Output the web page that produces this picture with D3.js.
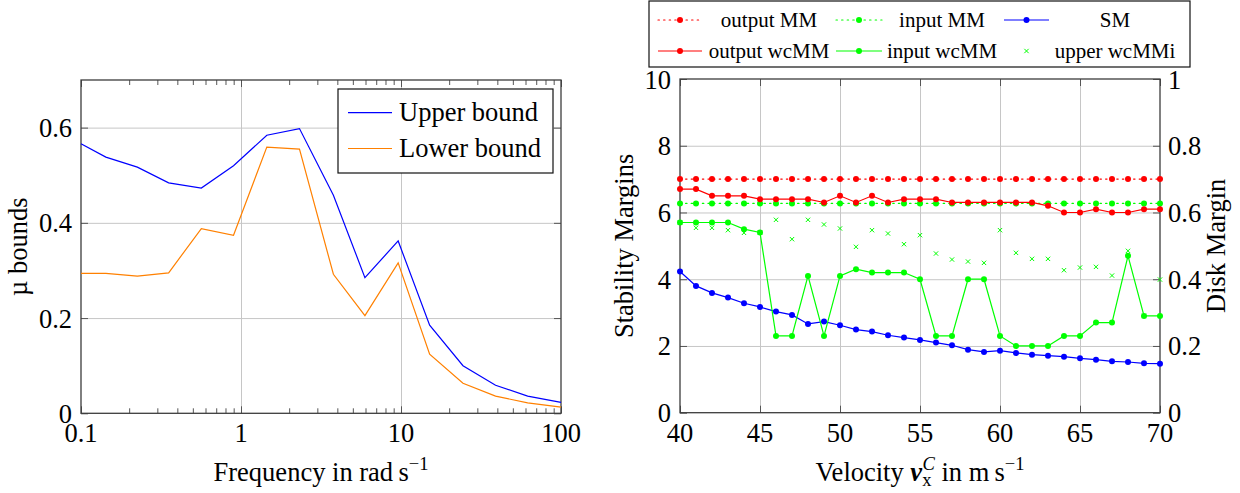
<!DOCTYPE html>
<html>
<head>
<meta charset="utf-8">
<script src="https://cdn.jsdelivr.net/npm/d3@7"></script>
<style>
  body { margin: 0; background: #fff; }
  svg text { font-family: "Liberation Serif", "Times New Roman", serif; fill: #000; }
</style>
</head>
<body>
<svg id="fig" width="1240" height="493"></svg>
<script>
// ---- Left panel: structured singular value bounds over frequency ----
const freq       = [0.1, 0.143, 0.225, 0.353, 0.565, 0.898, 1.45, 2.32, 3.78, 5.95, 9.6, 15.1, 24.4, 39, 61.9, 100];
const upperBound = [0.566, 0.538, 0.517, 0.484, 0.473, 0.520, 0.584, 0.598, 0.458, 0.285, 0.362, 0.185, 0.100, 0.059, 0.036, 0.023];
const lowerBound = [0.294, 0.294, 0.288, 0.295, 0.388, 0.374, 0.559, 0.555, 0.292, 0.205, 0.316, 0.124, 0.063, 0.036, 0.022, 0.013];
const freqTicks  = [0.1, 1, 10, 100];
const freqMinor  = [0.2,0.3,0.4,0.5,0.6,0.7,0.8,0.9, 2,3,4,5,6,7,8,9, 20,30,40,50,60,70,80,90];
const muTicks    = [0, 0.2, 0.4, 0.6];

// ---- Right panel: stability margins over velocity ----
const velocity    = [40,41,42,43,44,45,46,47,48,49,50,51,52,53,54,55,56,57,58,59,60,61,62,63,64,65,66,67,68,69,70];
const outputMM    = [7,7,7,7,7,7,7,7,7,7,7,7,7,7,7,7,7,7,7,7,7,7,7,7,7,7,7,7,7,7,7];
const inputMM     = [6.27,6.27,6.27,6.27,6.27,6.27,6.27,6.27,6.27,6.27,6.27,6.27,6.27,6.27,6.27,6.27,6.27,6.27,6.27,6.27,6.27,6.27,6.27,6.27,6.27,6.27,6.27,6.27,6.27,6.27,6.27];
const sm          = [4.23,3.80,3.59,3.45,3.28,3.17,3.03,2.93,2.66,2.73,2.62,2.49,2.43,2.32,2.25,2.18,2.10,2.02,1.89,1.82,1.86,1.79,1.74,1.71,1.68,1.63,1.59,1.54,1.52,1.48,1.47];
const outputWcMM  = [6.7,6.7,6.5,6.5,6.5,6.4,6.4,6.4,6.4,6.3,6.5,6.3,6.5,6.3,6.4,6.4,6.4,6.3,6.3,6.3,6.3,6.3,6.3,6.2,6.0,6.0,6.1,6.0,6.0,6.1,6.1];
const inputWcMM   = [5.7,5.7,5.7,5.7,5.5,5.4,2.3,2.3,4.1,2.3,4.1,4.3,4.2,4.2,4.2,4.0,2.3,2.3,4.0,4.0,2.3,2.0,2.0,2.0,2.3,2.3,2.7,2.7,4.7,2.9,2.9];
const upperWcMMi  = [5.7,5.54,5.54,5.47,5.39,5.4,5.78,5.20,5.78,5.64,5.52,4.97,5.47,5.37,5.05,5.32,4.77,4.59,4.53,4.49,5.47,4.79,4.61,4.61,4.27,4.35,4.37,4.11,4.85,2.9,3.99];
const velTicks    = [40,45,50,55,60,65,70];
const smTicks     = [0,2,4,6,8,10];
const dmTicks     = [0,0.2,0.4,0.6,0.8,1];

const RED = "#ff0000", GREEN = "#00ff00", BLUE = "#0000ff", ORANGE = "#ff8000";
const GRID = "#c6c6c6", AXIS = "#3c3c3c", TICK = "#555";
const FS = 26.5;

const svg = d3.select("#fig");

function inwardTicks(axisFn, scale, vals, size, tx, ty) {
  svg.append("g").attr("transform", `translate(${tx},${ty})`)
    .call(axisFn(scale).tickValues(vals).tickSize(-size).tickFormat(""))
    .call(g => g.select(".domain").remove())
    .selectAll("line").attr("stroke", TICK).attr("stroke-width", 1);
}
function gridLines(axisFn, scale, vals, len, tx, ty) {
  svg.append("g").attr("transform", `translate(${tx},${ty})`)
    .call(axisFn(scale).tickValues(vals).tickSize(-len).tickFormat(""))
    .call(g => g.select(".domain").remove())
    .selectAll("line").attr("stroke", GRID).attr("stroke-width", 1);
}
function frame(b) {
  svg.append("rect").attr("x", b.x0).attr("y", b.y0)
    .attr("width", b.x1 - b.x0).attr("height", b.y1 - b.y0)
    .attr("fill", "none").attr("stroke", AXIS).attr("stroke-width", 1.3);
}

// ================= Left panel =================
const L = { x0: 81, x1: 561, y0: 80, y1: 413.3 };
const xL = d3.scaleLog().domain([0.1, 100]).range([L.x0, L.x1]);
const yL = d3.scaleLinear().domain([0, 0.7]).range([L.y1, L.y0]);

gridLines(d3.axisBottom, xL, [1, 10], L.y1 - L.y0, 0, L.y1);
gridLines(d3.axisLeft, yL, [0.2, 0.4, 0.6], L.x1 - L.x0, L.x0, 0);
inwardTicks(d3.axisBottom, xL, freqMinor, 5, 0, L.y1);
inwardTicks(d3.axisTop, xL, freqMinor, 5, 0, L.y0);
inwardTicks(d3.axisBottom, xL, freqTicks, 7, 0, L.y1);
inwardTicks(d3.axisTop, xL, freqTicks, 7, 0, L.y0);
inwardTicks(d3.axisLeft, yL, muTicks, 7, L.x0, 0);
inwardTicks(d3.axisRight, yL, muTicks, 7, L.x1, 0);
frame(L);

svg.append("g").selectAll("text").data(freqTicks).join("text")
  .attr("x", d => xL(d)).attr("y", 441.5).attr("text-anchor", "middle")
  .attr("font-size", FS).text(d => String(d));
svg.append("g").selectAll("text").data(muTicks).join("text")
  .attr("x", L.x0 - 9).attr("y", d => yL(d) + 9.5).attr("text-anchor", "end")
  .attr("font-size", FS).text(d => String(d));

const lineL = (ys) => d3.line().x((d, i) => xL(freq[i])).y(d => yL(d))(ys);
svg.append("path").attr("d", lineL(upperBound)).attr("fill", "none").attr("stroke", BLUE).attr("stroke-width", 1.2);
svg.append("path").attr("d", lineL(lowerBound)).attr("fill", "none").attr("stroke", ORANGE).attr("stroke-width", 1.2);

// axis titles
const fl = svg.append("text").attr("x", (L.x0 + L.x1) / 2).attr("y", 481)
  .attr("text-anchor", "middle").attr("font-size", FS);
fl.append("tspan").text("Frequency in rad\u2009s");
fl.append("tspan").attr("font-size", FS * 0.7).attr("dy", -11).text("\u22121");
svg.append("text").attr("transform", `translate(27,${(L.y0 + L.y1) / 2}) rotate(-90)`)
  .attr("text-anchor", "middle").attr("font-size", FS).text("\u00b5 bounds");

// legend
const lgL = svg.append("g");
lgL.append("rect").attr("x", 338).attr("y", 89).attr("width", 215).attr("height", 84)
  .attr("fill", "#fff").attr("stroke", "#111").attr("stroke-width", 1.2);
[["Upper bound", BLUE, 112.7], ["Lower bound", ORANGE, 148.5]].forEach(([t, c, y]) => {
  lgL.append("line").attr("x1", 348).attr("x2", 392).attr("y1", y).attr("y2", y)
    .attr("stroke", c).attr("stroke-width", 1.2);
  lgL.append("text").attr("x", 399).attr("y", y + 8).attr("font-size", FS).text(t);
});

// ================= Right panel =================
const R = { x0: 680, x1: 1160, y0: 79, y1: 412.7 };
const xR = d3.scaleLinear().domain([40, 70]).range([R.x0, R.x1]);
const ySM = d3.scaleLinear().domain([0, 10]).range([R.y1, R.y0]);
const yDM = d3.scaleLinear().domain([0, 1]).range([R.y1, R.y0]);

gridLines(d3.axisBottom, xR, [45, 50, 55, 60, 65], R.y1 - R.y0, 0, R.y1);
gridLines(d3.axisLeft, ySM, [2, 4, 6, 8], R.x1 - R.x0, R.x0, 0);
inwardTicks(d3.axisBottom, xR, velTicks, 7, 0, R.y1);
inwardTicks(d3.axisTop, xR, velTicks, 7, 0, R.y0);
inwardTicks(d3.axisLeft, ySM, smTicks, 7, R.x0, 0);
inwardTicks(d3.axisRight, yDM, dmTicks, 7, R.x1, 0);
frame(R);

svg.append("g").selectAll("text").data(velTicks).join("text")
  .attr("x", d => xR(d)).attr("y", 441.5).attr("text-anchor", "middle")
  .attr("font-size", FS).text(d => String(d));
svg.append("g").selectAll("text").data(smTicks).join("text")
  .attr("x", R.x0 - 9).attr("y", d => ySM(d) + 9.5).attr("text-anchor", "end")
  .attr("font-size", FS).text(d => String(d));
svg.append("g").selectAll("text").data(dmTicks).join("text")
  .attr("x", R.x1 + 8).attr("y", d => yDM(d) + 9.5).attr("text-anchor", "start")
  .attr("font-size", FS).text(d => String(d));

// data series, drawn in legend order
const series = [
  { name: "output MM",   ys: outputMM,   color: RED,   dash: "1.4,4.2", mark: "dot" },
  { name: "input MM",    ys: inputMM,    color: GREEN, dash: "1.4,4.2", mark: "dot" },
  { name: "SM",          ys: sm,         color: BLUE,  dash: null,      mark: "dot" },
  { name: "output wcMM", ys: outputWcMM, color: RED,   dash: null,      mark: "dot" },
  { name: "input wcMM",  ys: inputWcMM,  color: GREEN, dash: null,      mark: "dot" },
  { name: "upper wcMMi", ys: upperWcMMi, color: GREEN, dash: null,      mark: "x", noLine: true }
];
const xSym = d3.symbol().type(d3.symbolX).size(14);

series.forEach(s => {
  const g = svg.append("g");
  if (!s.noLine) {
    g.append("path")
      .attr("d", d3.line().x((d, i) => xR(velocity[i])).y(d => ySM(d))(s.ys))
      .attr("fill", "none").attr("stroke", s.color).attr("stroke-width", 1.2)
      .attr("stroke-dasharray", s.dash).attr("stroke-linecap", s.dash ? "round" : null);
  }
  if (s.mark === "dot") {
    g.selectAll("circle").data(s.ys).join("circle")
      .attr("cx", (d, i) => xR(velocity[i])).attr("cy", d => ySM(d)).attr("r", 3)
      .attr("fill", s.color);
  } else {
    g.selectAll("path.m").data(s.ys).join("path").attr("class", "m")
      .attr("transform", (d, i) => `translate(${xR(velocity[i])},${ySM(d)})`)
      .attr("d", xSym).attr("fill", "none").attr("stroke", s.color).attr("stroke-width", 1);
  }
});

// axis titles
const vl = svg.append("text").attr("x", (R.x0 + R.x1) / 2).attr("y", 481)
  .attr("text-anchor", "middle").attr("font-size", FS);
vl.append("tspan").text("Velocity ");
vl.append("tspan").attr("font-weight", "bold").attr("font-style", "italic").text("v");
vl.append("tspan").attr("font-size", FS * 0.7).attr("dy", 5).text("x");
vl.append("tspan").attr("font-size", FS * 0.7).attr("font-style", "italic").attr("dx", -9).attr("dy", -16).text("C");
vl.append("tspan").attr("dy", 11).text(" in m\u2009s");
vl.append("tspan").attr("font-size", FS * 0.7).attr("dy", -11).text("\u22121");

svg.append("text").attr("transform", `translate(633,${(R.y0 + R.y1) / 2}) rotate(-90)`)
  .attr("text-anchor", "middle").attr("font-size", FS).text("Stability Margins");
svg.append("text").attr("transform", `translate(1225,${(R.y0 + R.y1) / 2}) rotate(-90)`)
  .attr("text-anchor", "middle").attr("font-size", FS).text("Disk Margin");

// legend (3 columns x 2 rows)
const lgR = svg.append("g");
lgR.append("rect").attr("x", 649).attr("y", 1).attr("width", 541).attr("height", 66)
  .attr("fill", "#fff").attr("stroke", "#111").attr("stroke-width", 1.2);
const colImg = [[658, 702], [836, 882], [1004, 1049]];
const colText = [769, 942, 1115];
const rowY = [20, 51];
series.forEach((s, k) => {
  const c = k % 3, r = Math.floor(k / 3);
  const [a, b] = colImg[c], y = rowY[r], mx = (a + b) / 2;
  if (!s.noLine) {
    lgR.append("line").attr("x1", a).attr("x2", b).attr("y1", y).attr("y2", y)
      .attr("stroke", s.color).attr("stroke-width", 1.2)
      .attr("stroke-dasharray", s.dash).attr("stroke-linecap", s.dash ? "round" : null);
  }
  if (s.mark === "dot") {
    lgR.append("circle").attr("cx", mx).attr("cy", y).attr("r", 3).attr("fill", s.color);
  } else {
    lgR.append("path").attr("transform", `translate(${mx},${y})`).attr("d", xSym)
      .attr("fill", "none").attr("stroke", s.color).attr("stroke-width", 1);
  }
  lgR.append("text").attr("x", colText[c]).attr("y", y + 7).attr("text-anchor", "middle")
    .attr("font-size", 21).text(s.name);
});
</script>
</body>
</html>
